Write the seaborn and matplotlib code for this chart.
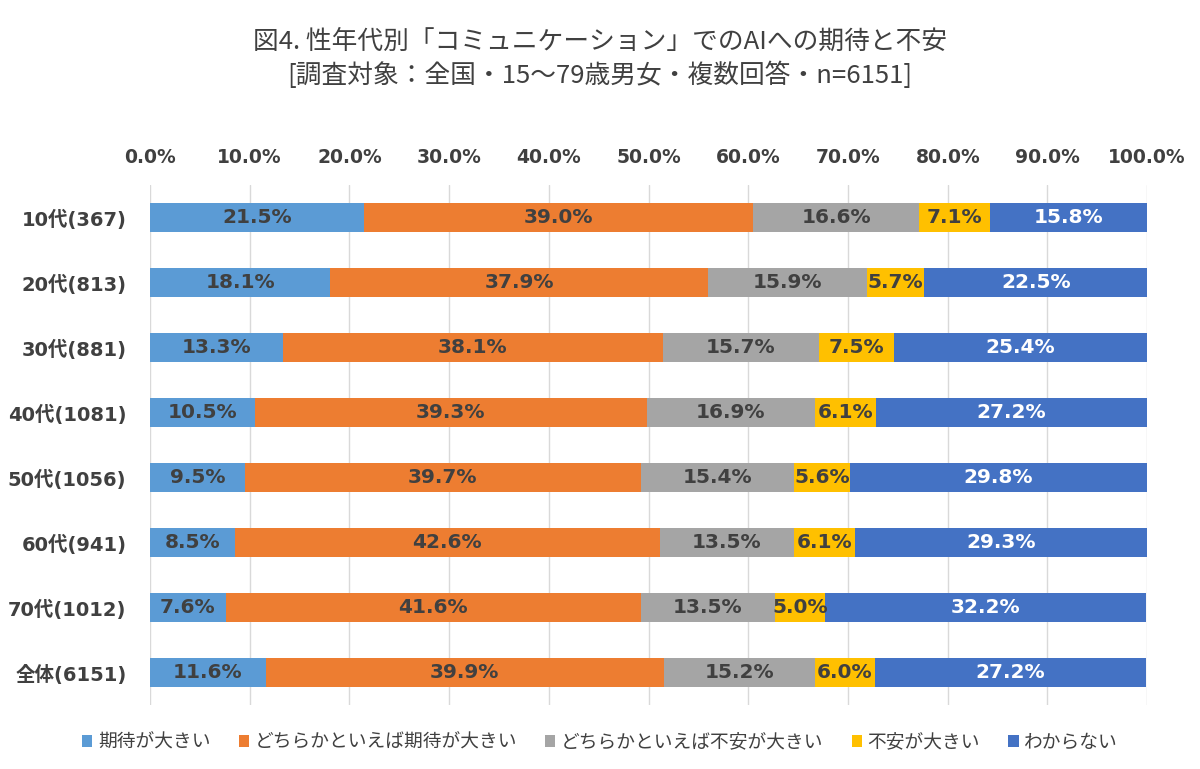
import matplotlib
matplotlib.use("Agg")
import matplotlib.pyplot as plt
import seaborn as sns
import pandas as pd
import numpy as np
from matplotlib.patches import Patch

categories = ["10代(367)", "20代(813)", "30代(881)", "40代(1081)", "50代(1056)", "60代(941)", "70代(1012)", "全体(6151)"]
series_names = ["期待が大きい", "どちらかといえば期待が大きい", "どちらかといえば不安が大きい", "不安が大きい", "わからない"]
s1 = [21.5, 18.1, 13.3, 10.5, 9.5, 8.5, 7.6, 11.6]
s2 = [39.0, 37.9, 38.1, 39.3, 39.7, 42.6, 41.6, 39.9]
s3 = [16.6, 15.9, 15.7, 16.9, 15.4, 13.5, 13.5, 15.2]
s4 = [7.1, 5.7, 7.5, 6.1, 5.6, 6.1, 5.0, 6.0]
s5 = [15.8, 22.5, 25.4, 27.2, 29.8, 29.3, 32.2, 27.2]
colors = ["#5B9BD5", "#ED7D31", "#A5A5A5", "#FFC000", "#4472C4"]
label_colors = ["#404040", "#404040", "#404040", "#404040", "#FFFFFF"]
ticks = [0, 10, 20, 30, 40, 50, 60, 70, 80, 90, 100]

sns.set_style("white")
plt.rcParams['font.family'] = ['Noto Sans CJK JP', 'DejaVu Sans']
wide = ['DejaVu Sans', 'Noto Sans CJK JP']

series = [s1, s2, s3, s4, s5]
vals = np.array(series)
cum = np.cumsum(vals, axis=0)

fig = plt.figure(figsize=(12, 7.69), dpi=100)
ax = fig.add_axes([0.125, 0.0832, 0.831, 0.6762])

for i in range(len(series) - 1, -1, -1):
    df = pd.DataFrame({"cat": categories, "val": cum[i]})
    sns.barplot(data=df, x="val", y="cat", orient="h", color=colors[i],
                saturation=1, width=0.46, ax=ax, zorder=3,
                edgecolor="none", linewidth=0)

for i in range(len(series)):
    for j, cat in enumerate(categories):
        center = cum[i][j] - vals[i][j] / 2
        ax.text(center, j, f"{vals[i][j]:.1f}%", ha="center", va="center",
                fontsize=14.5, fontweight="bold", color=label_colors[i], zorder=5,
                family=wide)

ax.set_xlim(0, 100)
ax.set_ylim(len(categories) - 0.5, -0.5)
ax.set_xticks(ticks)
ax.set_xticklabels([f"{t:.1f}%" for t in ticks])
ax.xaxis.tick_top()
ax.tick_params(axis="x", length=0, pad=13, labelsize=13.5, labelcolor="#404040")
ax.tick_params(axis="y", length=0, pad=17, labelsize=14, labelcolor="#404040")
for lab in ax.get_xticklabels() + ax.get_yticklabels():
    lab.set_fontweight("bold")
    lab.set_family(wide)
ax.grid(axis="x", color="#D9D9D9", linewidth=1, zorder=0)
ax.set_axisbelow(True)
for s in ax.spines.values():
    s.set_visible(False)
ax.set_xlabel("")
ax.set_ylabel("")

fig.text(0.5, 0.945, "図4. 性年代別「コミュニケーション」でのAIへの期待と不安", ha="center", va="center",
         fontsize=18.5, color="#404040")
fig.text(0.5, 0.902, "[調査対象：全国・15～79歳男女・複数回答・n=6151]", ha="center", va="center",
         fontsize=18.5, color="#404040")

handles = [Patch(facecolor=c, edgecolor="none") for c in colors]
fig.legend(handles, series_names, loc="center", bbox_to_anchor=(0.5, 0.035), ncol=5,
           frameon=False, fontsize=13.5, handlelength=0.55, handleheight=0.55,
           handletextpad=0.3, columnspacing=1.5, labelcolor="#404040")

fig.savefig("out.png", dpi=100)
